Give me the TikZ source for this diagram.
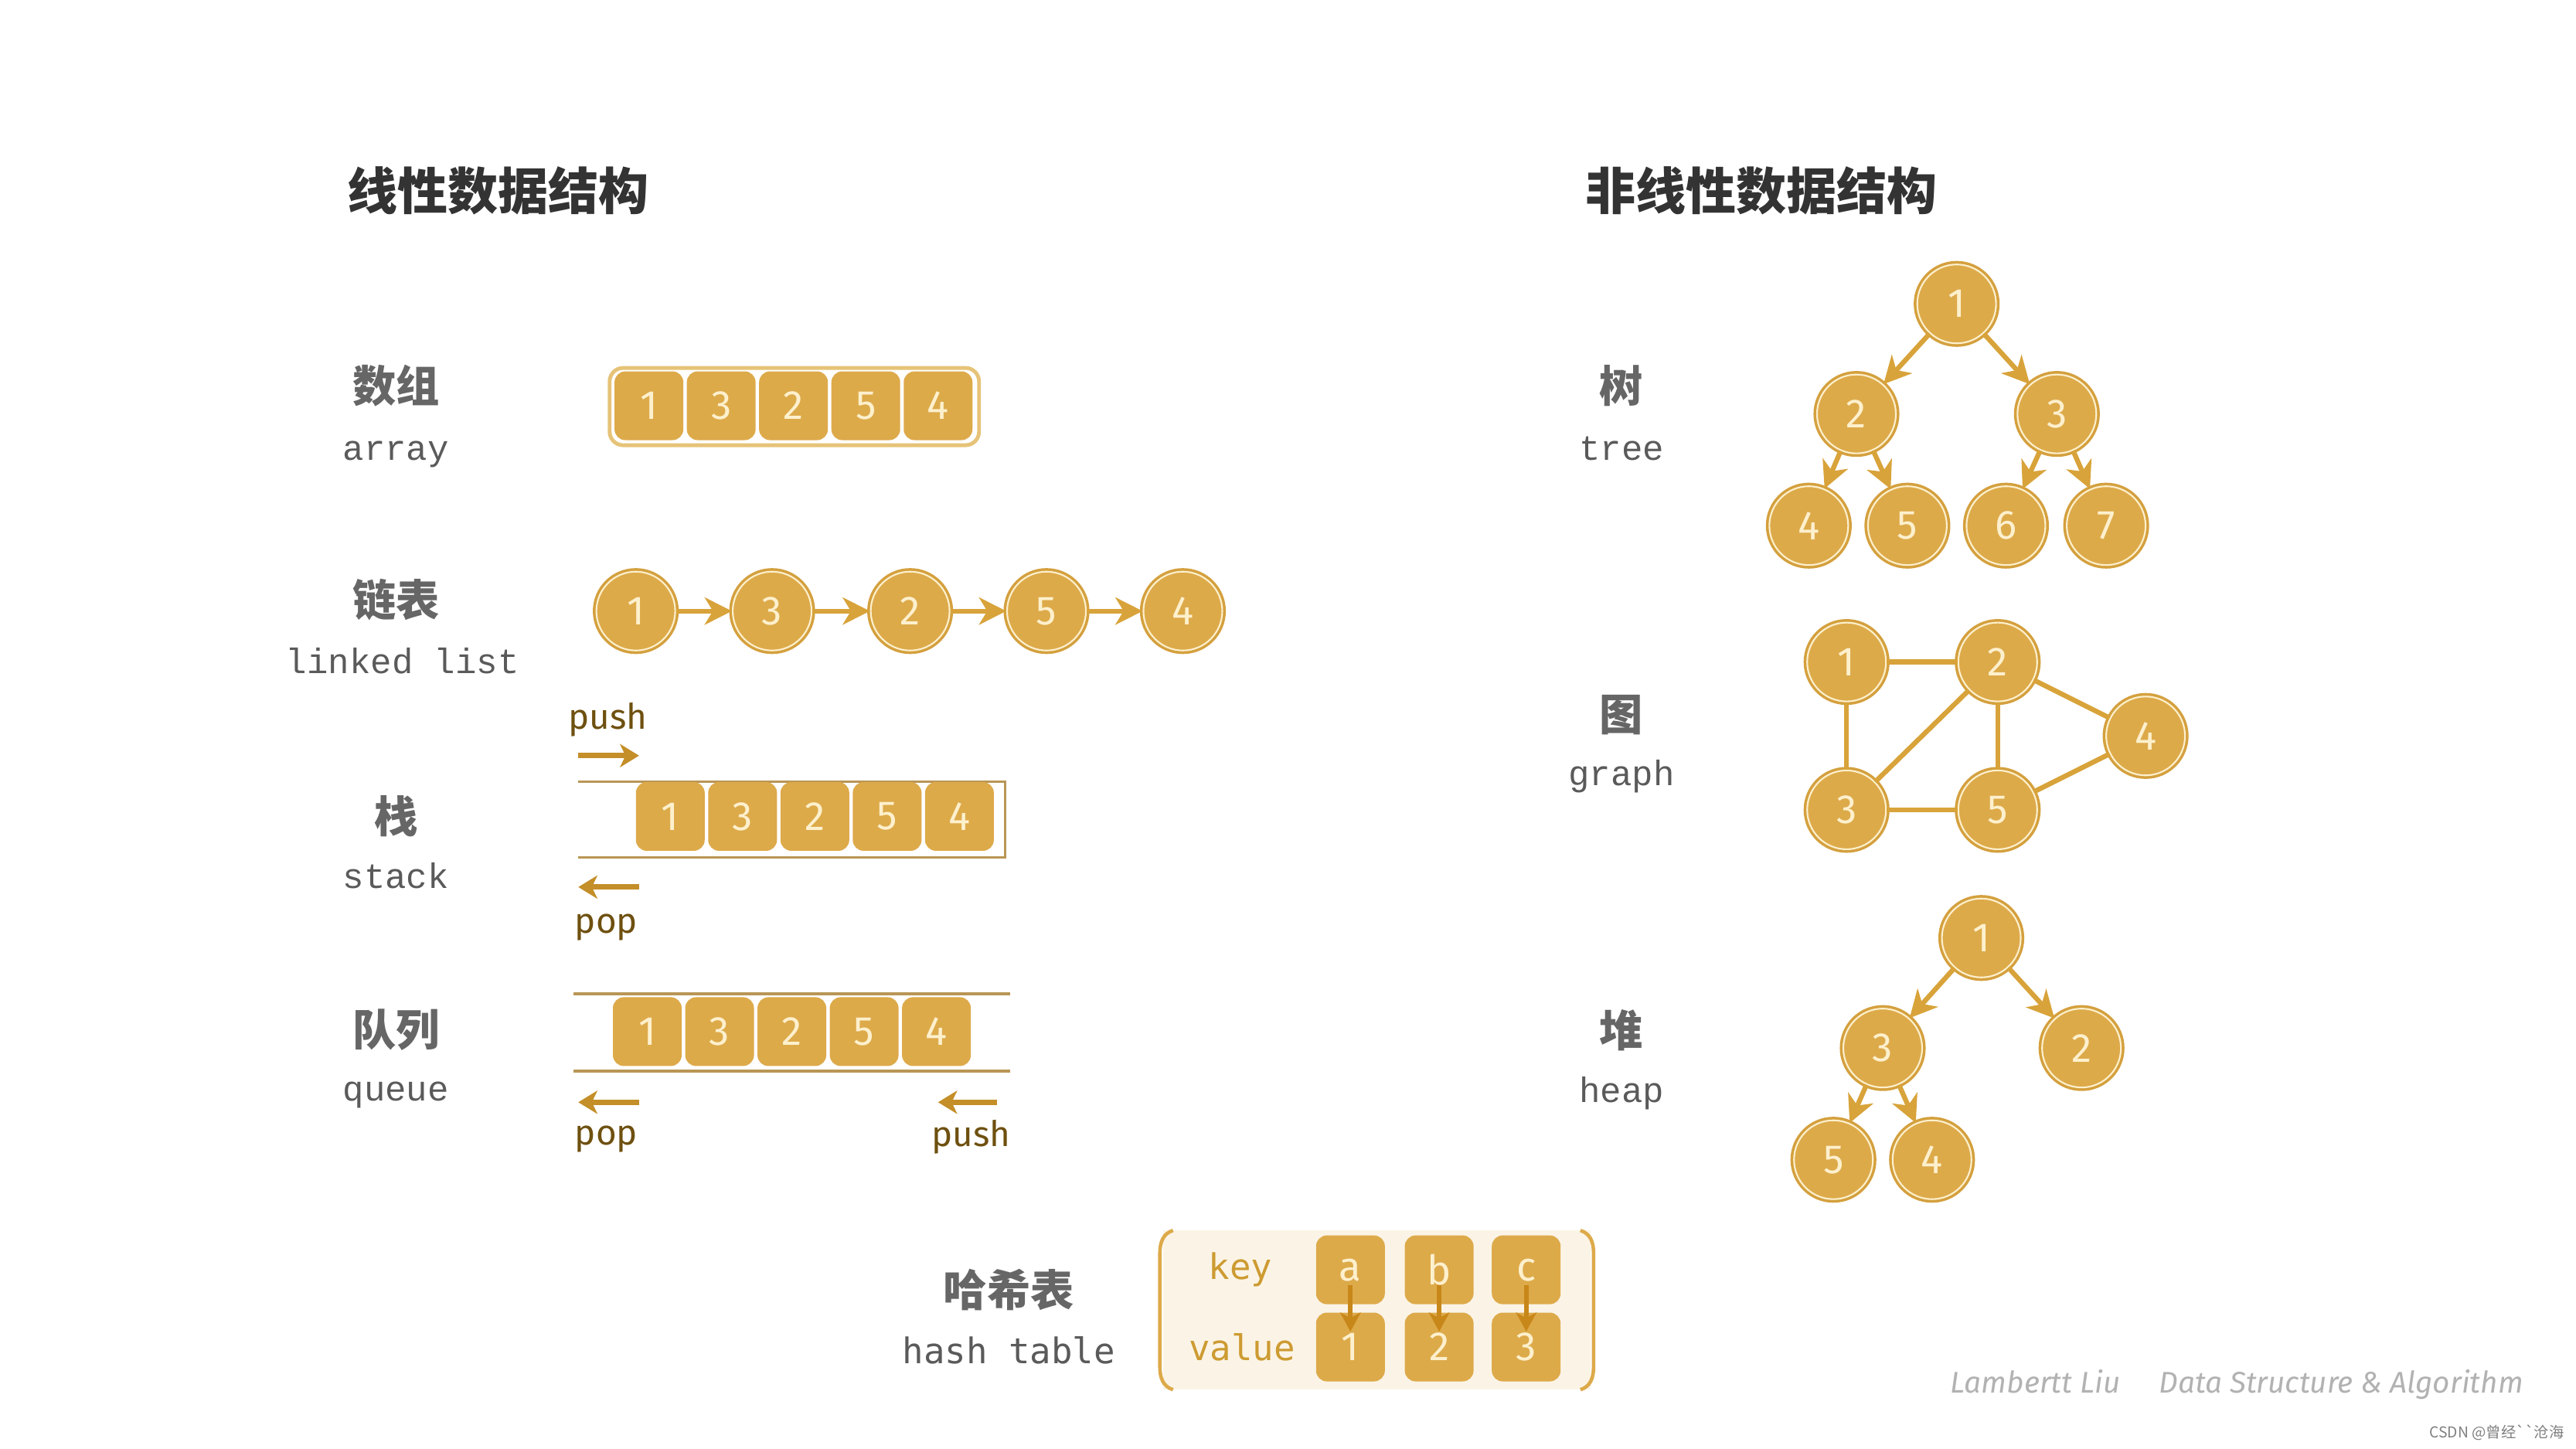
\documentclass[tikz,border=0pt]{standalone}
\usepackage{fontspec}
\usetikzlibrary{arrows.meta}
\newfontfamily\cjk{Noto Sans CJK SC}
\newfontfamily\numfont{Fira Sans}
\newfontfamily\lmono{Liberation Mono}
\newfontfamily\dmono{DejaVu Sans Mono}
\definecolor{gold}{RGB}{221,170,74}
\definecolor{golddk}{RGB}{212,160,62}
\definecolor{cream}{RGB}{253,240,205}
\definecolor{arrowc}{RGB}{216,163,58}
\definecolor{ttlc}{RGB}{51,51,51}
\definecolor{lblc}{RGB}{102,102,102}
\definecolor{enc}{RGB}{90,90,90}
\definecolor{ppt}{RGB}{110,80,15}
\definecolor{pparr}{RGB}{196,142,40}
\definecolor{hcream}{RGB}{251,244,230}
\definecolor{keyc}{RGB}{205,155,50}
\definecolor{lineg}{RGB}{185,150,85}
\definecolor{arrbd}{RGB}{230,195,120}
\definecolor{harrc}{RGB}{200,135,25}
\tikzset{
  ttl/.style={font=\cjk\bfseries\fontsize{18.5}{20}\selectfont, text=ttlc, inner sep=0pt},
  zh/.style={font=\cjk\bfseries\fontsize{16}{18}\selectfont, text=lblc, inner sep=0pt},
  en/.style={font=\lmono\fontsize{13}{15}\selectfont, text=enc, inner sep=0pt, anchor=base},
  sq/.style={rectangle, rounded corners=4pt, fill=gold, minimum width=0.89cm, minimum height=0.89cm,
    text=cream, font=\numfont\fontsize{15}{15}\selectfont, inner sep=0pt},
  cnode/.style={circle, fill=gold, draw=cream, line width=0.6pt,
    preaction={draw=golddk, line width=2.6pt}, minimum size=1.02cm, inner sep=0pt,
    text=cream, font=\numfont\fontsize{15}{15}\selectfont},
  garr/.style={draw=arrowc, line width=1.8pt, -{Stealth[length=10pt,width=10pt,inset=3pt]}},
  gline/.style={draw=arrowc, line width=1.8pt},
  pparrow/.style={draw=pparr, line width=2pt, -{Stealth[length=7pt,width=8.5pt,inset=2pt]}},
  pptext/.style={font=\numfont\fontsize{13}{15}\selectfont, text=ppt, inner sep=0pt, anchor=base},
  harr/.style={draw=harrc, line width=1.8pt, -{Stealth[length=7pt,width=7.5pt,inset=2pt]}},
  keytext/.style={font=\dmono\fontsize{13}{15}\selectfont, text=keyc, inner sep=0pt},
  contline/.style={draw=lineg, line width=0.9pt},
  brk/.style={draw=gold, line width=1.3pt},
}
\begin{document}
\begin{tikzpicture}[x=0.021257cm,y=-0.021257cm]
\useasboundingbox[fill=white] (0,0) rectangle (1568,882);

% titles
\node[ttl] (t1) at (303,116) {线性数据结构};
\node[ttl] (t2) at (1072,116) {非线性数据结构};

% left labels
\node[zh] (z1) at (241,235) {数组};
\node[en] (e1) at (241,280) {array};
\node[zh] (z2) at (241,365) {链表};
\node[en] (e2) at (245,410) {linked list};
\node[zh] (z3) at (241,497) {栈};
\node[en] (e3) at (241,541) {stack};
\node[zh] (z4) at (241,627) {队列};
\node[en] (e4) at (241,670) {queue};

% right labels
\node[zh] (z5) at (987,235) {树};
\node[en] (e5) at (987,280) {tree};
\node[zh] (z6) at (987,435) {图};
\node[en] (e6) at (987,478) {graph};
\node[zh] (z7) at (987,627) {堆};
\node[en] (e7) at (987,671) {heap};
\node[zh] (z8) at (614,785) {哈希表};
\node[font=\dmono\fontsize{13}{15}\selectfont, text=enc, inner sep=0pt, anchor=base] (e8) at (614,830) {hash table};

% array
\node[draw=arrbd, line width=1.4pt, rounded corners=5pt, fill=white,
  minimum width=4.78cm, minimum height=1.0cm] (arr) at (483.5,247.5) {};
\foreach \v [count=\i] in {1,3,2,5,4}
  \node[sq] (a\i) at ({351+44*\i},247) {\v};

% linked list
\foreach \x/\v/\n in {387/1/1,470/3/2,554/2/3,637/5/4,720/4/5}
  \node[cnode] (L\n) at (\x,372) {\v};
\foreach \i/\j in {1/2,2/3,3/4,4/5}
  \draw[garr] (L\i) -- (L\j);

% stack
\node[pptext] (spush) at (370,444) {push};
\coordinate (sp1) at (352,460);
\coordinate (sp2) at (389,460);
\draw[pparrow] (sp1) -- (sp2);
\draw[contline] (352,476) -- (612,476) -- (612,522) -- (352,522);
\foreach \v [count=\i] in {1,3,2,5,4}
  \node[sq] (s\i) at ({364+44*\i},497) {\v};
\coordinate (so1) at (389,540);
\coordinate (so2) at (352,540);
\draw[pparrow] (so1) -- (so2);
\node[pptext] (spop) at (369,568) {pop};

% queue
\draw[contline] (349,605) -- (615,605);
\draw[contline] (349,652) -- (615,652);
\foreach \v [count=\i] in {1,3,2,5,4}
  \node[sq] (q\i) at ({350+44*\i},628) {\v};
\coordinate (qo1) at (389,671);
\coordinate (qo2) at (352,671);
\draw[pparrow] (qo1) -- (qo2);
\node[pptext] (qpop) at (369,697) {pop};
\coordinate (qi1) at (607,671);
\coordinate (qi2) at (571,671);
\draw[pparrow] (qi1) -- (qi2);
\node[pptext] (qpush) at (591,698) {push};

% hash table
\fill[hcream] (708,749) rectangle (968,846);
\draw[brk] (714,749) .. controls (708,751) and (706,756) .. (706,763) -- (706,832)
  .. controls (706,839) and (708,844) .. (714,846);
\draw[brk] (962,749) .. controls (968,751) and (970,756) .. (970,763) -- (970,832)
  .. controls (970,839) and (968,844) .. (962,846);
\node[keytext] (hk) at (755,773) {key};
\node[keytext] (hv) at (756,820) {value};
\foreach \x/\k/\v/\n in {822/a/1/1,876/b/2/2,929/c/3/3}{
  \node[sq] (K\n) at (\x,773) {\k};
  \node[sq] (V\n) at (\x,820) {\v};
}
\foreach \n in {1,2,3}
  \draw[harr] ([yshift=-0.2cm]K\n.center) -- ([yshift=0.2cm]V\n.center);

% tree
\node[cnode] (T1) at (1191,185) {1};
\node[cnode] (T2) at (1130,252) {2};
\node[cnode] (T3) at (1252,252) {3};
\node[cnode] (T4) at (1101,320) {4};
\node[cnode] (T5) at (1161,320) {5};
\node[cnode] (T6) at (1221,320) {6};
\node[cnode] (T7) at (1282,320) {7};
\foreach \i/\j in {1/2,1/3,2/4,2/5,3/6,3/7}
  \draw[garr] (T\i) -- (T\j);

% graph
\node[cnode] (G1) at (1124,403) {1};
\node[cnode] (G2) at (1216,403) {2};
\node[cnode] (G4) at (1306,448) {4};
\node[cnode] (G3) at (1124,493) {3};
\node[cnode] (G5) at (1216,493) {5};
\foreach \i/\j in {1/2,1/3,2/3,2/5,2/4,3/5,5/4}
  \draw[gline] (G\i) -- (G\j);

% heap
\node[cnode] (H1) at (1206,571) {1};
\node[cnode] (H3) at (1146,638) {3};
\node[cnode] (H2) at (1267,638) {2};
\node[cnode] (H5) at (1116,706) {5};
\node[cnode] (H4) at (1176,706) {4};
\foreach \i/\j in {1/3,1/2,3/5,3/4}
  \draw[garr] (H\i) -- (H\j);

% watermarks
\node[anchor=west, inner sep=0pt, font=\numfont\itshape\fontsize{11}{13}\selectfont, text=black!30]
  (wm) at (1187,843) {Lambertt Liu\hspace{1.3em}Data Structure \& Algorithm};
\node[anchor=east, inner sep=0pt, font=\cjk\fontsize{5.5}{6}\selectfont, text=black!50]
  (csdn) at (1561,872) {CSDN @曾经\char96\char96 沧海};
\end{tikzpicture}
\end{document}
